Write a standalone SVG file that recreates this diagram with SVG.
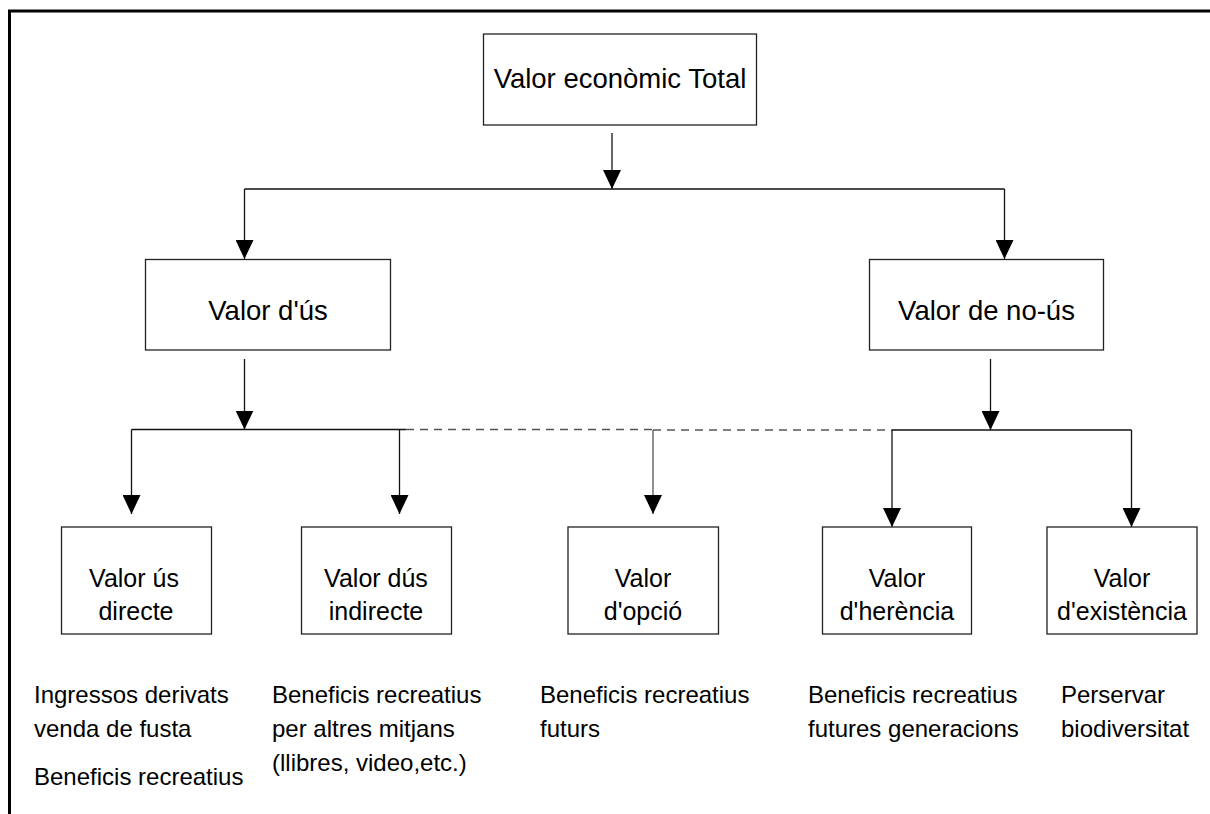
<svg xmlns="http://www.w3.org/2000/svg" width="1210" height="814" viewBox="0 0 1210 814">
<style>
.box{fill:#fff;stroke:#222;stroke-width:1.3}
.t{font-family:"Liberation Sans",Arial,sans-serif;fill:#000}
.big{font-size:27.5px;text-anchor:middle}
.mid{font-size:25px;text-anchor:middle}
.note{font-size:24px}
.ln{fill:none;stroke:#111;stroke-width:1.3}
.dash{fill:none;stroke:#555;stroke-width:1.3;stroke-dasharray:8 6}
</style>
<defs>
<marker id="ah" markerUnits="userSpaceOnUse" markerWidth="19" markerHeight="18" refX="19" refY="9" orient="auto" viewBox="0 0 19 18">
<path d="M0,0 L19,9 L0,18 Z" fill="#000"/>
</marker>
</defs>
<rect x="0" y="0" width="1210" height="814" fill="#fff"/>
<path d="M9.5,830 L9.5,11 L1220,11" fill="none" stroke="#000" stroke-width="3"/>

<g id="connectors">
<path class="ln" d="M612,133 L612,189" marker-end="url(#ah)"/>
<path class="ln" d="M244.5,189 L1004.5,189"/>
<path class="ln" d="M244.5,189 L244.5,259" marker-end="url(#ah)"/>
<path class="ln" d="M1004.5,189 L1004.5,259" marker-end="url(#ah)"/>
<path class="ln" d="M244.5,359 L244.5,429.5" marker-end="url(#ah)"/>
<path class="ln" d="M131.5,429.5 L406,429.5"/>
<path class="dash" d="M406,429.5 L653,429.5 M653,430 L892,430"/>
<path class="ln" d="M892,430 L1131.5,430"/>
<path class="ln" d="M990.5,359 L990.5,430" marker-end="url(#ah)"/>
<path class="ln" d="M131.5,429.5 L131.5,514" marker-end="url(#ah)"/>
<path class="ln" d="M399.5,429.5 L399.5,514" marker-end="url(#ah)"/>
<path class="ln" d="M653,430 L653,514" style="stroke:#555" marker-end="url(#ah)"/>
<path class="ln" d="M892,430 L892,527" marker-end="url(#ah)"/>
<path class="ln" d="M1131.5,430 L1131.5,527" marker-end="url(#ah)"/>
</g>

<g id="total">
<rect class="box" x="483.5" y="34" width="273" height="91"/>
<text class="t big" x="620" y="88">Valor econòmic Total</text>
</g>
<g id="us">
<rect class="box" x="145.5" y="259.5" width="245" height="90.5"/>
<text class="t big" x="268" y="320">Valor d'ús</text>
</g>
<g id="nous">
<rect class="box" x="869.5" y="259.5" width="234" height="90.5"/>
<text class="t big" x="986.5" y="320">Valor de no-ús</text>
</g>
<g id="directe">
<rect class="box" x="61.5" y="527" width="150" height="107"/>
<text class="t mid" x="134" y="587">Valor ús</text>
<text class="t mid" x="136" y="620">directe</text>
</g>
<g id="indirecte">
<rect class="box" x="301.5" y="527" width="150" height="107"/>
<text class="t mid" x="376" y="587">Valor dús</text>
<text class="t mid" x="376" y="620">indirecte</text>
</g>
<g id="opcio">
<rect class="box" x="568" y="527" width="150.5" height="107"/>
<text class="t mid" x="643" y="587">Valor</text>
<text class="t mid" x="643" y="620">d'opció</text>
</g>
<g id="herencia">
<rect class="box" x="822.5" y="527" width="149" height="107"/>
<text class="t mid" x="897" y="587">Valor</text>
<text class="t mid" x="897" y="620">d'herència</text>
</g>
<g id="existencia">
<rect class="box" x="1047" y="527" width="150" height="107"/>
<text class="t mid" x="1122" y="587">Valor</text>
<text class="t mid" x="1122" y="620">d'existència</text>
</g>

<g id="notes">
<text class="t note" x="34" y="703">Ingressos derivats</text>
<text class="t note" x="34" y="737">venda de fusta</text>
<text class="t note" x="34" y="785">Beneficis recreatius</text>
<text class="t note" x="272" y="703">Beneficis recreatius</text>
<text class="t note" x="272" y="737">per altres mitjans</text>
<text class="t note" x="272" y="771">(llibres, video,etc.)</text>
<text class="t note" x="540" y="703">Beneficis recreatius</text>
<text class="t note" x="540" y="737">futurs</text>
<text class="t note" x="808" y="703">Beneficis recreatius</text>
<text class="t note" x="808" y="737">futures generacions</text>
<text class="t note" x="1061" y="703">Perservar</text>
<text class="t note" x="1061" y="737">biodiversitat</text>
</g>
</svg>
